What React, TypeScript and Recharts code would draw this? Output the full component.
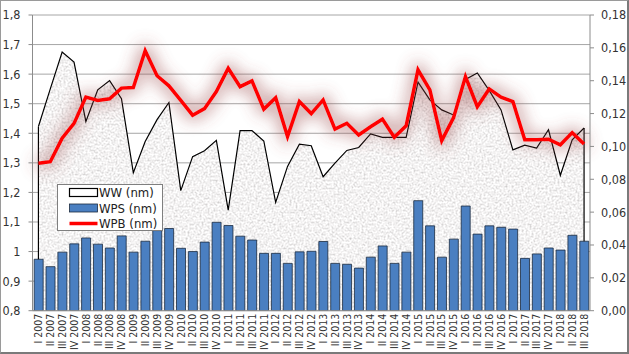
import React from 'react';
import {
  ComposedChart, Area, Line, Bar, XAxis, YAxis, CartesianGrid, ReferenceLine, Legend,
} from 'recharts';

const FONT = '"DejaVu Sans Condensed", "Liberation Sans Narrow", "DejaVu Sans", sans-serif';

const categories = [
  'I 2007', 'II 2007', 'III 2007', 'IV 2007',
  'I 2008', 'II 2008', 'III 2008', 'IV 2008',
  'I 2009', 'II 2009', 'III 2009', 'IV 2009',
  'I 2010', 'II 2010', 'III 2010', 'IV 2010',
  'I 2011', 'II 2011', 'III 2011', 'IV 2011',
  'I 2012', 'II 2012', 'III 2012', 'IV 2012',
  'I 2013', 'II 2013', 'III 2013', 'IV 2013',
  'I 2014', 'II 2014', 'III 2014', 'IV 2014',
  'I 2015', 'II 2015', 'III 2015', 'IV 2015',
  'I 2016', 'II 2016', 'III 2016', 'IV 2016',
  'I 2017', 'II 2017', 'III 2017', 'IV 2017',
  'I 2018', 'II 2018', 'III 2018',
];

const WW = [
  1.423, 1.55, 1.675, 1.641,
  1.44, 1.547, 1.578, 1.517,
  1.267, 1.372, 1.446, 1.504,
  1.206, 1.321, 1.341, 1.376,
  1.14, 1.409, 1.409, 1.374,
  1.166, 1.288, 1.363, 1.358,
  1.253, 1.299, 1.342, 1.352,
  1.398, 1.386, 1.386, 1.386,
  1.573, 1.513, 1.479, 1.462,
  1.582, 1.604, 1.545, 1.479,
  1.344, 1.36, 1.35, 1.412,
  1.258, 1.378, 1.418,
];

const WPS = [
  0.974, 0.949, 0.998, 1.026,
  1.046, 1.025, 1.012, 1.053,
  0.998, 1.035, 1.071, 1.078,
  1.011, 1.0, 1.032, 1.099,
  1.088, 1.052, 1.039, 0.994,
  0.994, 0.96, 0.999, 1.001,
  1.034, 0.96, 0.957, 0.944,
  0.981, 1.019, 0.96, 0.998,
  1.172, 1.087, 0.981, 1.042,
  1.154, 1.059, 1.087, 1.082,
  1.076, 0.977, 0.992, 1.012,
  1.005, 1.055, 1.035,
];

const WPB = [
  0.0898, 0.0907, 0.105, 0.114,
  0.13, 0.128, 0.129, 0.1355,
  0.1358, 0.1583, 0.143, 0.1369,
  0.128, 0.119, 0.123, 0.1334,
  0.1476, 0.1364, 0.1399, 0.1227,
  0.1297, 0.106, 0.1273, 0.12,
  0.1283, 0.1105, 0.1141, 0.107,
  0.112, 0.1166, 0.1056, 0.1125,
  0.1466, 0.1344, 0.1035, 0.1175,
  0.1425, 0.1242, 0.135, 0.13,
  0.1273, 0.104, 0.104, 0.1044,
  0.101, 0.1084, 0.1015,
];

const leftTicks = [0.8, 0.9, 1, 1.1, 1.2, 1.3, 1.4, 1.5, 1.6, 1.7, 1.8];
const rightTicks = [0, 0.02, 0.04, 0.06, 0.08, 0.1, 0.12, 0.14, 0.16, 0.18];
const seriesNames = ['WW (nm)', 'WPS (nm)', 'WPB (nm)'];

const data = categories.map((cat, i) => ({ cat, ww: WW[i], wps: WPS[i], wpb: WPB[i] }));

const fmtLeft = (v: number) => String(Number(v.toFixed(2))).replace('.', ',');
const fmtRight = (v: number) => v.toFixed(2).replace('.', ',');

const XTick = (props: any) => {
  const { x, y, payload } = props;
  return (
    <text
      x={x}
      y={y}
      transform={`rotate(-90, ${x}, ${y})`}
      textAnchor="end"
      dy="0.36em"
      fontSize={10.5}
      fill="#333"
      fontFamily={FONT}
    >
      {payload.value}
    </text>
  );
};

const LegendBox = () => (
  <div style={{ width: 106, height: 47, boxSizing: 'border-box', border: '1px solid #7f7f7f', background: '#fff' }}>
    <svg width={104} height={45} style={{ display: 'block' }}>
      <rect x={11.5} y={3.5} width={28} height={8} fill="#fff" stroke="#000" strokeWidth={1.2} />
      <text x={41} y={7.5} dominantBaseline="central" fontSize={13} fontFamily={FONT} fill="#222">{seriesNames[0]}</text>
      <rect x={11.5} y={19} width={28} height={8} fill="#4a7fc1" stroke="#1c2b3f" strokeWidth={0.8} />
      <text x={41} y={23} dominantBaseline="central" fontSize={13} fontFamily={FONT} fill="#222">{seriesNames[1]}</text>
      <line x1={11.5} x2={39.5} y1={38.5} y2={38.5} stroke="#ff0000" strokeWidth={3.5} />
      <text x={41} y={38.5} dominantBaseline="central" fontSize={13} fontFamily={FONT} fill="#222">{seriesNames[2]}</text>
    </svg>
  </div>
);

export default function App() {
  const last = categories.length - 1;
  return (
    <div style={{ position: 'fixed', left: 0, top: 0, width: 629, height: 354, background: '#fff' }}>
      <ComposedChart
        width={629}
        height={354}
        data={data}
        margin={{ top: 15, right: 0, bottom: 0, left: 1 }}
        barCategoryGap="14%"
        style={{ fontFamily: FONT }}
      >
        <defs>
          <filter id="noiseF" x="0" y="0" width="100%" height="100%" filterUnits="userSpaceOnUse">
            <feTurbulence type="fractalNoise" baseFrequency="0.5" numOctaves={4} seed={4} result="n" />
            <feColorMatrix in="n" type="saturate" values="0" result="g" />
            <feComponentTransfer in="g">
              <feFuncR type="linear" slope={1.0} intercept={0.4} />
              <feFuncG type="linear" slope={1.0} intercept={0.39} />
              <feFuncB type="linear" slope={1.0} intercept={0.39} />
              <feFuncA type="linear" slope={0} intercept={1} />
            </feComponentTransfer>
          </filter>
          <pattern id="granite" patternUnits="userSpaceOnUse" x={0} y={0} width={629} height={354}>
            <rect x={0} y={0} width={629} height={354} fill="#e0e0e0" filter="url(#noiseF)" />
          </pattern>
          <filter id="glow" filterUnits="userSpaceOnUse" x={0} y={0} width={629} height={354}>
            <feMorphology in="SourceAlpha" operator="dilate" radius={3} result="d" />
            <feGaussianBlur in="d" stdDeviation={8} result="b" />
            <feFlood floodColor="#9a4848" floodOpacity={0.5} />
            <feComposite in2="b" operator="in" result="gl" />
            <feMerge>
              <feMergeNode in="gl" />
              <feMergeNode in="SourceGraphic" />
            </feMerge>
          </filter>
        </defs>
        <CartesianGrid yAxisId="left" vertical={false} stroke="#a6a6a6" strokeWidth={1} />
        <XAxis
          dataKey="cat"
          interval={0}
          height={43.3}
          tick={<XTick />}
          tickLine={false}
          tickSize={0}
          tickMargin={3}
          axisLine={{ stroke: '#8c8c8c' }}
        />
        <YAxis
          yAxisId="left"
          width={31.5}
          domain={[0.8, 1.8]}
          ticks={leftTicks}
          tickFormatter={fmtLeft}
          tick={{ fontSize: 12.5, fill: '#333', fontFamily: FONT }}
          tickSize={4}
          tickMargin={8}
          tickLine={{ stroke: '#8c8c8c' }}
          axisLine={{ stroke: '#8c8c8c' }}
          allowDataOverflow
        />
        <YAxis
          yAxisId="right"
          orientation="right"
          width={39}
          domain={[0, 0.18]}
          ticks={rightTicks}
          tickFormatter={fmtRight}
          tick={{ fontSize: 12.5, fill: '#333', fontFamily: FONT }}
          tickSize={4}
          tickMargin={7}
          tickLine={{ stroke: '#8c8c8c' }}
          axisLine={{ stroke: '#8c8c8c' }}
        />
        <Area
          yAxisId="left"
          type="linear"
          dataKey="ww"
          stroke="none"
          fill="url(#granite)"
          fillOpacity={1}
          isAnimationActive={false}
          legendType="none"
          activeDot={false}
        />
        <Line
          yAxisId="left"
          type="linear"
          dataKey="ww"
          stroke="#000"
          strokeWidth={1.2}
          dot={false}
          activeDot={false}
          isAnimationActive={false}
        />
        <ReferenceLine
          yAxisId="left"
          segment={[{ x: categories[0], y: WPS[0] }, { x: categories[0], y: WW[0] }]}
          stroke="#000"
          strokeWidth={1.2}
        />
        <ReferenceLine
          yAxisId="left"
          segment={[{ x: categories[last], y: WPS[last] }, { x: categories[last], y: WW[last] }]}
          stroke="#000"
          strokeWidth={1.2}
        />
        <Bar
          yAxisId="left"
          dataKey="wps"
          fill="#4a7fc1"
          stroke="#1c2b3f"
          strokeWidth={0.8}
          isAnimationActive={false}
        />
        <Line
          yAxisId="right"
          type="linear"
          dataKey="wpb"
          stroke="#ff0000"
          strokeWidth={3.5}
          strokeLinejoin="miter"
          dot={false}
          activeDot={false}
          filter="url(#glow)"
          isAnimationActive={false}
        />
        <Legend
          content={() => <LegendBox />}
          layout="vertical"
          align="center"
          verticalAlign="middle"
          wrapperStyle={{ left: 57, top: 184, width: 106, height: 47 }}
        />
      </ComposedChart>
      <div
        style={{
          position: 'absolute', left: 0, top: 0, width: 629, height: 354, boxSizing: 'border-box',
          borderLeft: '1px solid #9a9a9a', borderTop: '1px solid #9a9a9a',
          borderRight: '2px solid #7a7a7a', borderBottom: '2px solid #7a7a7a', pointerEvents: 'none',
        }}
      />
    </div>
  );
}
